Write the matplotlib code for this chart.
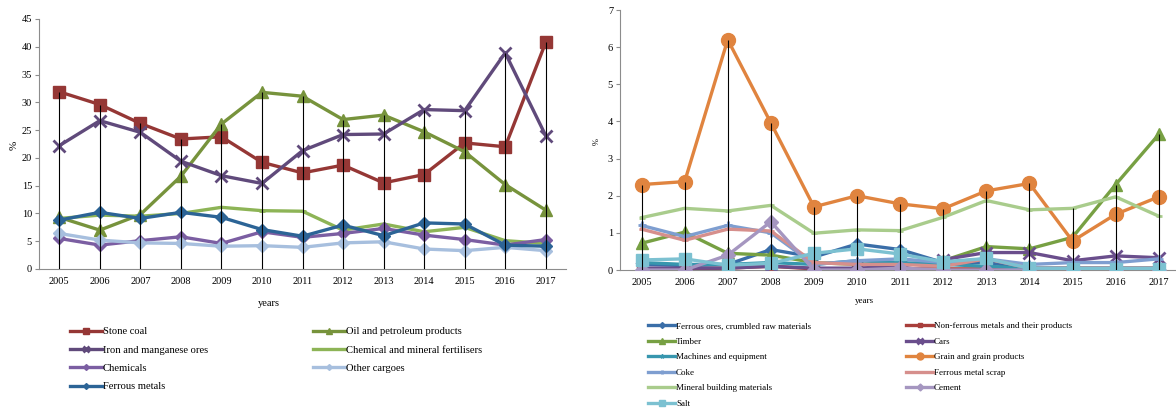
import numpy as np
import matplotlib
matplotlib.use("Agg")
import matplotlib.pyplot as plt

plt.rcParams['font.family'] = ['Liberation Serif', 'DejaVu Serif']

years = list(range(2005, 2018))

# left panel (%)
stone_coal = [31.9, 29.6, 26.2, 23.4, 23.8, 19.2, 17.3, 18.7, 15.5, 17.0, 22.7, 22.0, 40.8]
oil_products = [9.3, 7.0, 9.8, 16.7, 26.1, 31.8, 31.1, 26.9, 27.7, 24.7, 21.1, 15.2, 10.6]
iron_manganese = [22.2, 26.7, 24.6, 19.4, 16.8, 15.4, 21.3, 24.2, 24.3, 28.7, 28.5, 38.9, 24.0]
fertilisers = [9.1, 9.7, 9.5, 10.0, 11.1, 10.5, 10.4, 7.0, 8.1, 6.7, 7.5, 5.1, 4.6]
chemicals = [5.5, 4.3, 5.1, 5.8, 4.6, 6.7, 5.7, 6.4, 7.3, 6.1, 5.3, 4.3, 5.3]
other_cargoes = [6.4, 5.2, 4.7, 4.6, 4.1, 4.2, 3.9, 4.7, 4.9, 3.6, 3.3, 3.9, 3.3]
ferrous_metals = [8.8, 10.2, 9.1, 10.2, 9.3, 7.1, 5.9, 7.9, 6.0, 8.3, 8.1, 4.3, 4.1]

# right panel (%)
ferrous_ores = [0.15, 0.12, 0.15, 0.55, 0.35, 0.70, 0.55, 0.20, 0.20, 0.05, 0.05, 0.05, 0.05]
non_ferrous = [0.03, 0.03, 0.05, 0.10, 0.03, 0.03, 0.03, 0.03, 0.03, 0.02, 0.01, 0.01, 0.01]
timber = [0.72, 1.02, 0.45, 0.40, 0.20, 0.15, 0.15, 0.25, 0.63, 0.57, 0.88, 2.30, 3.65]
cars = [0.05, 0.05, 0.05, 0.10, 0.05, 0.05, 0.10, 0.28, 0.47, 0.47, 0.25, 0.38, 0.33]
machines = [0.20, 0.15, 0.15, 0.20, 0.15, 0.25, 0.20, 0.15, 0.10, 0.05, 0.05, 0.05, 0.05]
grain = [2.30, 2.38, 6.20, 3.96, 1.70, 2.00, 1.78, 1.65, 2.13, 2.33, 0.78, 1.50, 1.97]
coke = [1.20, 0.90, 1.20, 1.00, 0.15, 0.25, 0.30, 0.20, 0.30, 0.15, 0.20, 0.20, 0.30]
scrap = [1.10, 0.80, 1.10, 1.05, 0.20, 0.15, 0.15, 0.10, 0.30, 0.05, 0.05, 0.05, 0.05]
mineral = [1.41, 1.66, 1.59, 1.74, 0.99, 1.08, 1.06, 1.42, 1.87, 1.62, 1.66, 1.97, 1.45]
cement = [0.0, 0.0, 0.40, 1.30, 0.0, 0.0, 0.05, 0.0, 0.0, 0.0, 0.0, 0.0, 0.0]
salt = [0.27, 0.30, 0.13, 0.18, 0.45, 0.57, 0.43, 0.22, 0.31, 0.05, 0.04, 0.04, 0.04]

fig = plt.figure(figsize=(11.76, 4.08), dpi=100)
ax1 = fig.add_axes([39/1176, 139/408, 527/1176, 250/408])
ax2 = fig.add_axes([620/1176, 138/408, 556/1176, 260/408])

# left chart series: (data, label, color, marker, size)
left = [
    (stone_coal, 'Stone coal', '#953735', 's', 8),
    (oil_products, 'Oil and petroleum products', '#77933C', '^', 8),
    (iron_manganese, 'Iron and manganese ores', '#604A7B', 'x', 9),
    (fertilisers, 'Chemical and mineral fertilisers', '#8DB456', '_', 5),
    (chemicals, 'Chemicals', '#7B5EA2', 'D', 6),
    (other_cargoes, 'Other cargoes', '#A7BFDE', 'D', 6),
    (ferrous_metals, 'Ferrous metals', '#2C6496', 'D', 6),
]
h1 = {}
for d, lab, c, m, s in left:
    ln, = ax1.plot(years, d, color=c, lw=2.4, marker=m, ms=s, mew=2 if m in 'x_' else 1,
                   label=lab, zorder=3)
    h1[lab] = ln
top1 = np.max([d for d, *_ in left], axis=0)
ax1.vlines(years, 0, top1, color='black', lw=0.8, zorder=5)

right = [
    (ferrous_ores, 'Ferrous ores, crumbled raw materials', '#3A6EA8', 'D', 6),
    (non_ferrous, 'Non-ferrous metals and their products', '#A83E3B', 's', 7),
    (timber, 'Timber', '#77A043', '^', 8),
    (cars, 'Cars', '#6A4E8C', 'x', 8),
    (machines, 'Machines and equipment', '#3796AE', '*', 6),
    (grain, 'Grain and grain products', '#E0843F', 'o', 10),
    (coke, 'Coke', '#7E9ED0', '+', 6),
    (scrap, 'Ferrous metal scrap', '#D68F8C', '_', 5),
    (mineral, 'Mineral building materials', '#A9CC8C', '_', 5),
    (cement, 'Cement', '#A596C0', 'D', 7),
    (salt, 'Salt', '#7CC1D1', 's', 9),
]
h2 = {}
for d, lab, c, m, s in right:
    ln, = ax2.plot(years, d, color=c, lw=2.4, marker=m, ms=s, mew=2 if m in 'x+_' else 1,
                   label=lab, zorder=3)
    h2[lab] = ln
top2 = np.max([d for d, *_ in right], axis=0)
ax2.vlines(years, 0, top2, color='black', lw=0.8, zorder=5)

ax1.set_xlim(2004.5, 2017.5)
ax1.set_ylim(0, 45)
ax1.set_yticks(range(0, 46, 5))
ax2.set_xlim(2004.5, 2004.5 + 556/43.1)
ax2.set_ylim(0, 7)
ax2.set_yticks(range(0, 8))

for ax in (ax1, ax2):
    ax.set_xticks(years)
    ax.set_xticklabels([str(y) for y in years])
    for s in ('top', 'right'):
        ax.spines[s].set_visible(False)
    for s in ('left', 'bottom'):
        ax.spines[s].set_color('#8C8C8C')
        ax.spines[s].set_linewidth(0.8)
    ax.tick_params(axis='x', length=0, labelsize=7.5, pad=6)
    ax.tick_params(axis='y', length=3, color='#8C8C8C', labelsize=7.5, pad=2)
    ax.set_facecolor('none')

fig.text(14/1176, 1 - 145/408, '%', rotation=90, ha='center', va='center', fontsize=8)
fig.text(597/1176, 1 - 142/408, '%', rotation=90, ha='center', va='center', fontsize=6)
fig.text(269/1176, 1 - 304/408, 'years', ha='center', va='center', fontsize=7.5)
fig.text(864/1176, 1 - 301/408, 'years', ha='center', va='center', fontsize=6.5)

# legends, one per column
def put_legend(handles, x, y, fs, spacing):
    lg = fig.legend(handles=handles, loc='upper left', bbox_to_anchor=(x/1176, 1 - y/408),
                    frameon=False, fontsize=fs, handlelength=3.0, handletextpad=0.1,
                    borderpad=0, borderaxespad=0, labelspacing=spacing, markerscale=0.5)
    return lg

put_legend([h1[k] for k in ['Stone coal', 'Iron and manganese ores', 'Chemicals', 'Ferrous metals']],
           70, 327, 7.6, 0.85)
put_legend([h1[k] for k in ['Oil and petroleum products', 'Chemical and mineral fertilisers', 'Other cargoes']],
           313, 327, 7.6, 0.85)
put_legend([h2[k] for k in ['Ferrous ores, crumbled raw materials', 'Timber', 'Machines and equipment',
                            'Coke', 'Mineral building materials', 'Salt']],
           648, 322, 6.5, 0.8)
put_legend([h2[k] for k in ['Non-ferrous metals and their products', 'Cars', 'Grain and grain products',
                            'Ferrous metal scrap', 'Cement']],
           906, 322, 6.5, 0.8)

fig.savefig('out.png', dpi=100)
